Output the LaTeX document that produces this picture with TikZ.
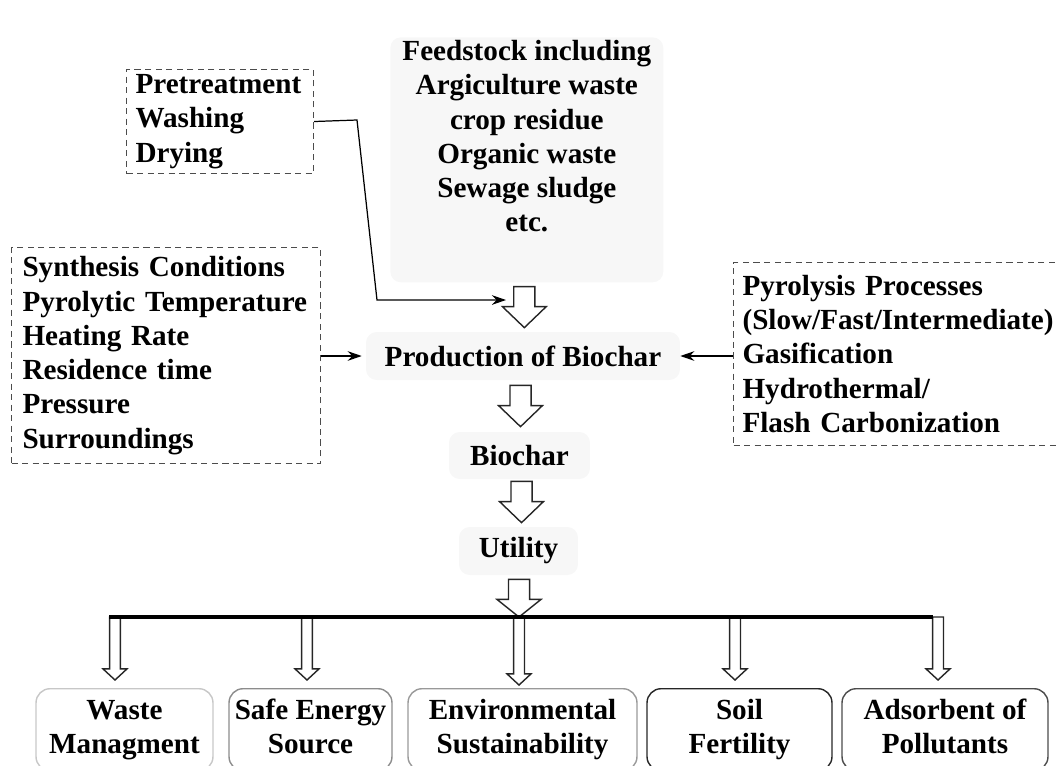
\documentclass[tikz,border=0pt]{standalone}
\usepackage{fontspec}
\setmainfont{Liberation Serif}
\usetikzlibrary{arrows.meta, calc, positioning}

\tikzset{
  lbl/.style={font=\bfseries\fontsize{16.6}{19.5}\selectfont},
  dashbox/.style={lbl, draw=black!70, dash pattern=on 3.5pt off 2.5pt, line width=0.6pt,
    align=left, anchor=north west, inner sep=0pt, inner xsep=0.18cm},
  softbox/.style={lbl, fill=black!3, rounded corners=6pt, inner sep=0pt, align=center},
  conn/.style={line width=0.7pt, -{Stealth[length=8pt,width=5.5pt]}},
  hollow/.style={draw=black!85, line width=0.8pt, fill=white, line join=miter},
  outbox/.style={lbl, draw, rounded corners=8pt, line width=0.8pt, align=center,
    anchor=north, inner sep=0pt, minimum height=1.64cm}
}

% block arrow: start, tip, half shaft, half head, head length
\newcommand{\hollowarrow}[5]{%
  \path #1 coordinate (hs) #2 coordinate (ht0);
  \path (hs |- ht0) coordinate (ht);
  \draw[hollow] ($(hs)+(-#3,0pt)$) -- ($(hs)+(#3,0pt)$) -- ($(ht)+(#3,#5)$)
    -- ($(ht)+(#4,#5)$) -- (ht) -- ($(ht)+(-#4,#5)$) -- ($(ht)+(-#3,#5)$) -- cycle;}

\begin{document}
\begin{tikzpicture}[x=0.02cm, y=-0.02cm]
  %tikz  Biochar, production and utility
  \useasboundingbox (0,0) rectangle (1057,765);

  \node[softbox, anchor=north west, minimum width=5.46cm, minimum height=4.9cm] (feedbg) at (390,37) {};
  \node[lbl, align=center, anchor=north, inner sep=0pt] (feed) at ($(feedbg.north)+(0,3)$)
    {Feedstock including\\Argiculture waste\\crop residue\\Organic waste\\Sewage sludge\\etc.};

  \node[dashbox, text width=3.38cm, minimum height=2.08cm] (pre) at (126,69)
    {Pretreatment\\Washing\\Drying};
  \node[dashbox, inner xsep=0.22cm, text width=5.74cm, minimum height=4.32cm] (syn) at (11,247)
    {Synthesis Conditions\\Pyrolytic Temperature\\Heating Rate\\Residence time\\Pressure\\Surroundings};
  \node[dashbox, text width=6.4cm, minimum height=3.66cm] (pyro) at (733,262)
    {Pyrolysis Processes\\(Slow/Fast/Intermediate)\\Gasification\\Hydrothermal/\\Flash Carbonization};

  \node[softbox, minimum width=6.28cm, minimum height=0.96cm] (prod) at (523,356) {Production of Biochar};
  \node[softbox, minimum width=2.82cm, minimum height=0.94cm] (bio) at (519.5,455.5) {Biochar};
  \node[softbox, minimum width=2.38cm, minimum height=0.96cm] (util) at (518.5,551) {Utility};

  \hollowarrow{($(feedbg.south)+(-2.5,4)$)}{($(prod.north)+(0,-4)$)}{6pt}{12.5pt}{12pt}
  \hollowarrow{($(prod.south)+(-2.5,5)$)}{($(bio.north)+(0,-5)$)}{6pt}{12.5pt}{12pt}
  \hollowarrow{($(bio.south)+(2,2)$)}{($(util.north)+(0,-4)$)}{6pt}{12.5pt}{12pt}

  \coordinate (barL) at (109,617);
  \coordinate (barR) at (933,617);
  \coordinate (tu) at (519,617);
  \hollowarrow{($(util.south)+(0.5,4)$)}{(tu)}{6pt}{12.5pt}{10pt}

  \foreach \n/\cx/\w/\ax/\g/\col/\txt in {
      waste/124.5/3.54cm/115/8/black!22/{\strut Waste\\\strut Managment},
      energy/310.5/3.26cm/307/8/black!45/{\strut Safe Energy\\\strut Source},
      env/522.5/4.58cm/519/3/black!40/{\strut Environmental\\\strut Sustainability},
      soil/739.5/3.70cm/735/8/black!85/{\strut Soil\\\strut Fertility},
      adsorb/945/4.12cm/938/8/black!70/{\strut Adsorbent of\\\strut Pollutants}}{
    \node[outbox, draw=\col, minimum width=\w] (\n) at (\cx,688) {\txt};
    \coordinate (\n-top) at (\ax,617);
    \hollowarrow{(\n-top)}{($(\n.north)+(0,-\g)$)}{3.1pt}{6.8pt}{6.3pt}
  }
  \draw[line width=2.8pt] (barL) -- (barR);

  \coordinate (bend1) at (357,120);
  \coordinate (bend2) at (377,300);
  \coordinate (feedin) at (506,300);
  \draw[conn] (pre.east) -- (bend1) -- (bend2) -- (feedin);
  \draw[conn, shorten >=0.08cm] (syn.east |- prod.west) -- (prod.west);
  \draw[conn] (pyro.west |- prod.east) -- (prod.east);
\end{tikzpicture}
\end{document}
